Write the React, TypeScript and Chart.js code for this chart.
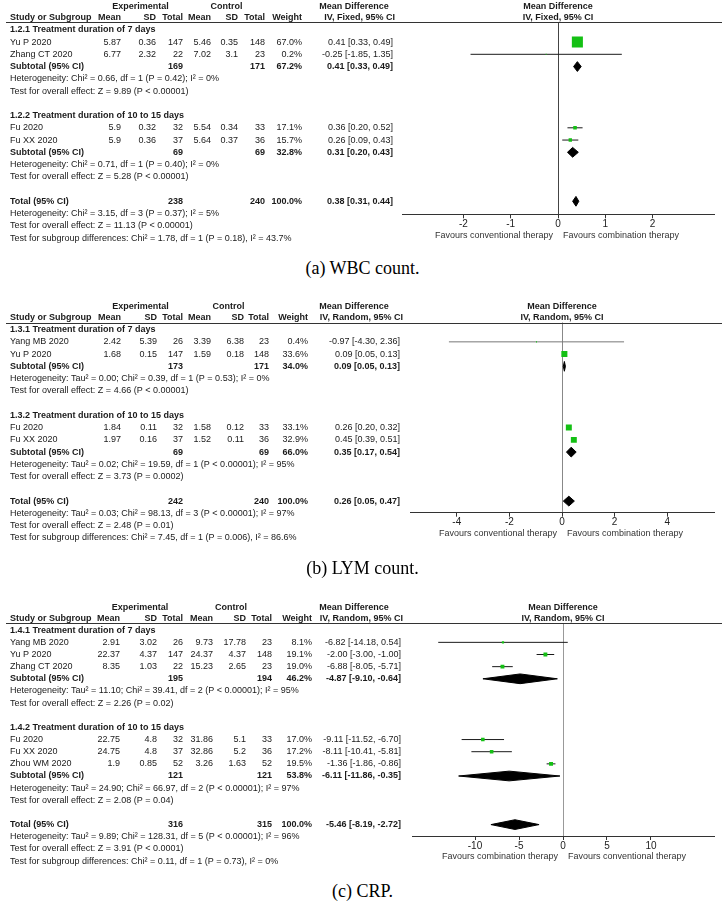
import React, { useEffect, useRef } from "react";
import { Chart, registerables } from "chart.js";

Chart.register(...registerables);

// ---------------- (a) WBC count ----------------
const A_STUDY = ["Yu P 2020", "Zhang CT 2020", "Fu 2020", "Fu XX 2020"];
const A_GROUP = [0, 0, 1, 1];
const A_EXP_MEAN = [5.87, 6.77, 5.9, 5.9];
const A_EXP_SD = [0.36, 2.32, 0.32, 0.36];
const A_EXP_N = [147, 22, 32, 37];
const A_CTL_MEAN = [5.46, 7.02, 5.54, 5.64];
const A_CTL_SD = [0.35, 3.1, 0.34, 0.37];
const A_CTL_N = [148, 23, 33, 36];
const A_WEIGHT = [67.0, 0.2, 17.1, 15.7];
const A_MD = [0.41, -0.25, 0.36, 0.26];
const A_LO = [0.33, -1.85, 0.2, 0.09];
const A_HI = [0.49, 1.35, 0.52, 0.43];
const A_SUB_LABEL = ["1.2.1 Treatment duration of 7 days", "1.2.2 Treatment duration of 10 to 15 days"];
const A_SUB_EXP_N = [169, 69];
const A_SUB_CTL_N = [171, 69];
const A_SUB_WEIGHT = [67.2, 32.8];
const A_SUB_MD = [0.41, 0.31];
const A_SUB_LO = [0.33, 0.2];
const A_SUB_HI = [0.49, 0.43];
const A_SUB_HET = [
  "Heterogeneity: Chi² = 0.66, df = 1 (P = 0.42); I² = 0%",
  "Heterogeneity: Chi² = 0.71, df = 1 (P = 0.40); I² = 0%",
];
const A_SUB_Z = [
  "Test for overall effect: Z = 9.89 (P < 0.00001)",
  "Test for overall effect: Z = 5.28 (P < 0.00001)",
];
const A_TOTAL_N = [238, 240];
const A_TOTAL_EST = [0.38, 0.31, 0.44];
const A_TOTAL_NOTES = [
  "Heterogeneity: Chi² = 3.15, df = 3 (P = 0.37); I² = 5%",
  "Test for overall effect: Z = 11.13 (P < 0.00001)",
  "Test for subgroup differences: Chi² = 1.78, df = 1 (P = 0.18), I² = 43.7%",
];
const A_TICKS = [-2, -1, 0, 1, 2];

// ---------------- (b) LYM count ----------------
const B_STUDY = ["Yang MB 2020", "Yu P 2020", "Fu 2020", "Fu XX 2020"];
const B_GROUP = [0, 0, 1, 1];
const B_EXP_MEAN = [2.42, 1.68, 1.84, 1.97];
const B_EXP_SD = [5.39, 0.15, 0.11, 0.16];
const B_EXP_N = [26, 147, 32, 37];
const B_CTL_MEAN = [3.39, 1.59, 1.58, 1.52];
const B_CTL_SD = [6.38, 0.18, 0.12, 0.11];
const B_CTL_N = [23, 148, 33, 36];
const B_WEIGHT = [0.4, 33.6, 33.1, 32.9];
const B_MD = [-0.97, 0.09, 0.26, 0.45];
const B_LO = [-4.3, 0.05, 0.2, 0.39];
const B_HI = [2.36, 0.13, 0.32, 0.51];
const B_SUB_LABEL = ["1.3.1 Treatment duration of 7 days", "1.3.2 Treatment duration of 10 to 15 days"];
const B_SUB_EXP_N = [173, 69];
const B_SUB_CTL_N = [171, 69];
const B_SUB_WEIGHT = [34.0, 66.0];
const B_SUB_MD = [0.09, 0.35];
const B_SUB_LO = [0.05, 0.17];
const B_SUB_HI = [0.13, 0.54];
const B_SUB_HET = [
  "Heterogeneity: Tau² = 0.00; Chi² = 0.39, df = 1 (P = 0.53); I² = 0%",
  "Heterogeneity: Tau² = 0.02; Chi² = 19.59, df = 1 (P < 0.00001); I² = 95%",
];
const B_SUB_Z = [
  "Test for overall effect: Z = 4.66 (P < 0.00001)",
  "Test for overall effect: Z = 3.73 (P = 0.0002)",
];
const B_TOTAL_N = [242, 240];
const B_TOTAL_EST = [0.26, 0.05, 0.47];
const B_TOTAL_NOTES = [
  "Heterogeneity: Tau² = 0.03; Chi² = 98.13, df = 3 (P < 0.00001); I² = 97%",
  "Test for overall effect: Z = 2.48 (P = 0.01)",
  "Test for subgroup differences: Chi² = 7.45, df = 1 (P = 0.006), I² = 86.6%",
];
const B_TICKS = [-4, -2, 0, 2, 4];

// ---------------- (c) CRP ----------------
const C_STUDY = ["Yang MB 2020", "Yu P 2020", "Zhang CT 2020", "Fu 2020", "Fu XX 2020", "Zhou WM 2020"];
const C_GROUP = [0, 0, 0, 1, 1, 1];
const C_EXP_MEAN = [2.91, 22.37, 8.35, 22.75, 24.75, 1.9];
const C_EXP_SD = [3.02, 4.37, 1.03, 4.8, 4.8, 0.85];
const C_EXP_N = [26, 147, 22, 32, 37, 52];
const C_CTL_MEAN = [9.73, 24.37, 15.23, 31.86, 32.86, 3.26];
const C_CTL_SD = [17.78, 4.37, 2.65, 5.1, 5.2, 1.63];
const C_CTL_N = [23, 148, 23, 33, 36, 52];
const C_WEIGHT = [8.1, 19.1, 19.0, 17.0, 17.2, 19.5];
const C_MD = [-6.82, -2.0, -6.88, -9.11, -8.11, -1.36];
const C_LO = [-14.18, -3.0, -8.05, -11.52, -10.41, -1.86];
const C_HI = [0.54, -1.0, -5.71, -6.7, -5.81, -0.86];
const C_SUB_LABEL = ["1.4.1 Treatment duration of 7 days", "1.4.2 Treatment duration of 10 to 15 days"];
const C_SUB_EXP_N = [195, 121];
const C_SUB_CTL_N = [194, 121];
const C_SUB_WEIGHT = [46.2, 53.8];
const C_SUB_MD = [-4.87, -6.11];
const C_SUB_LO = [-9.1, -11.86];
const C_SUB_HI = [-0.64, -0.35];
const C_SUB_HET = [
  "Heterogeneity: Tau² = 11.10; Chi² = 39.41, df = 2 (P < 0.00001); I² = 95%",
  "Heterogeneity: Tau² = 24.90; Chi² = 66.97, df = 2 (P < 0.00001); I² = 97%",
];
const C_SUB_Z = [
  "Test for overall effect: Z = 2.26 (P = 0.02)",
  "Test for overall effect: Z = 2.08 (P = 0.04)",
];
const C_TOTAL_N = [316, 315];
const C_TOTAL_EST = [-5.46, -8.19, -2.72];
const C_TOTAL_NOTES = [
  "Heterogeneity: Tau² = 9.89; Chi² = 128.31, df = 5 (P < 0.00001); I² = 96%",
  "Test for overall effect: Z = 3.91 (P < 0.0001)",
  "Test for subgroup differences: Chi² = 0.11, df = 1 (P = 0.73), I² = 0%",
];
const C_TICKS = [-10, -5, 0, 5, 10];

const FONT = '"Liberation Sans", Arial, Helvetica, sans-serif';

const PANELS = [
  {
    key: "a",
    caption: "(a) WBC count.",
    method: "IV, Fixed, 95% CI",
    favLeft: "Favours conventional therapy",
    favRight: "Favours combination therapy",
    d: {
      study: A_STUDY, group: A_GROUP, expMean: A_EXP_MEAN, expSd: A_EXP_SD, expN: A_EXP_N,
      ctlMean: A_CTL_MEAN, ctlSd: A_CTL_SD, ctlN: A_CTL_N, weight: A_WEIGHT, md: A_MD, lo: A_LO, hi: A_HI,
      subLabel: A_SUB_LABEL, subExpN: A_SUB_EXP_N, subCtlN: A_SUB_CTL_N, subWeight: A_SUB_WEIGHT,
      subMd: A_SUB_MD, subLo: A_SUB_LO, subHi: A_SUB_HI, subHet: A_SUB_HET, subZ: A_SUB_Z,
      totalN: A_TOTAL_N, totalEst: A_TOTAL_EST, totalNotes: A_TOTAL_NOTES, ticks: A_TICKS,
    },
    L: {
      top: 0, height: 250, headerLine: 22.3, row0: 29.8, pitch: 12.25, axisY: 214.3,
      plotL: 402, plotR: 714, xRange: 3.3, ciColor: "#1a1a1a", zeroColor: "#444",
      cols: { meanE: 121, sdE: 156, totE: 183, meanC: 211, sdC: 238, totC: 265, weight: 302, ci: 393 },
      mdCenter: 354, ivRight: 395, captionY: 268,
    },
  },
  {
    key: "b",
    caption: "(b) LYM count.",
    method: "IV, Random, 95% CI",
    favLeft: "Favours conventional therapy",
    favRight: "Favours combination therapy",
    d: {
      study: B_STUDY, group: B_GROUP, expMean: B_EXP_MEAN, expSd: B_EXP_SD, expN: B_EXP_N,
      ctlMean: B_CTL_MEAN, ctlSd: B_CTL_SD, ctlN: B_CTL_N, weight: B_WEIGHT, md: B_MD, lo: B_LO, hi: B_HI,
      subLabel: B_SUB_LABEL, subExpN: B_SUB_EXP_N, subCtlN: B_SUB_CTL_N, subWeight: B_SUB_WEIGHT,
      subMd: B_SUB_MD, subLo: B_SUB_LO, subHi: B_SUB_HI, subHet: B_SUB_HET, subZ: B_SUB_Z,
      totalN: B_TOTAL_N, totalEst: B_TOTAL_EST, totalNotes: B_TOTAL_NOTES, ticks: B_TICKS,
    },
    L: {
      top: 282, height: 280, headerLine: 40.5, row0: 47.6, pitch: 12.25, axisY: 230.7,
      plotL: 410, plotR: 714, xRange: 5.78, ciColor: "#777", zeroColor: "#888",
      cols: { meanE: 121, sdE: 157, totE: 183, meanC: 211, sdC: 244, totC: 269, weight: 308, ci: 400 },
      mdCenter: 354, ivRight: 403, captionY: 568,
    },
  },
  {
    key: "c",
    caption: "(c) CRP.",
    method: "IV, Random, 95% CI",
    favLeft: "Favours combination therapy",
    favRight: "Favours conventional therapy",
    d: {
      study: C_STUDY, group: C_GROUP, expMean: C_EXP_MEAN, expSd: C_EXP_SD, expN: C_EXP_N,
      ctlMean: C_CTL_MEAN, ctlSd: C_CTL_SD, ctlN: C_CTL_N, weight: C_WEIGHT, md: C_MD, lo: C_LO, hi: C_HI,
      subLabel: C_SUB_LABEL, subExpN: C_SUB_EXP_N, subCtlN: C_SUB_CTL_N, subWeight: C_SUB_WEIGHT,
      subMd: C_SUB_MD, subLo: C_SUB_LO, subHi: C_SUB_HI, subHet: C_SUB_HET, subZ: C_SUB_Z,
      totalN: C_TOTAL_N, totalEst: C_TOTAL_EST, totalNotes: C_TOTAL_NOTES, ticks: C_TICKS,
    },
    L: {
      top: 584, height: 292, headerLine: 39.3, row0: 46.2, pitch: 12.15, axisY: 252,
      plotL: 412, plotR: 714, xRange: 17.16, ciColor: "#1a1a1a", zeroColor: "#999",
      cols: { meanE: 120, sdE: 157, totE: 183, meanC: 213, sdC: 246, totC: 272, weight: 312, ci: 401 },
      mdCenter: 354, ivRight: 403, captionY: 891,
    },
  },
];

function buildRows(d: any) {
  const rows: any[] = [];
  d.subLabel.forEach((lab: string, g: number) => {
    rows.push({ kind: "group", text: lab });
    d.study.forEach((_s: string, i: number) => {
      if (d.group[i] === g) rows.push({ kind: "study", i });
    });
    rows.push({ kind: "sub", g });
    rows.push({ kind: "note", text: d.subHet[g] });
    rows.push({ kind: "note", text: d.subZ[g] });
    rows.push({ kind: "blank" });
  });
  rows.push({ kind: "total" });
  d.totalNotes.forEach((t: string) => rows.push({ kind: "note", text: t }));
  return rows;
}

const ciText = (m: number, l: number, h: number) => `${m.toFixed(2)} [${l.toFixed(2)}, ${h.toFixed(2)}]`;

function makeTablePlugin(p: any, rows: any[]) {
  const { d, L } = p;
  return {
    id: "forestTable" + p.key,
    afterDraw(chart: any) {
      const ctx = chart.ctx;
      const ys = chart.scales.y;
      const xs = chart.scales.x;
      const yOf = (r: number) => ys.getPixelForValue(r);
      const area = chart.chartArea;
      const C = L.cols;
      const txt = (s: string, x: number, y: number, align: string, bold: boolean, size = 9) => {
        ctx.font = `${bold ? "bold " : ""}${size}px ${FONT}`;
        ctx.textAlign = align;
        ctx.fillText(s, x, y);
      };
      ctx.save();
      ctx.strokeStyle = "#333";
      ctx.lineWidth = 1;
      const ly = Math.round(area.top) + 0.5;
      ctx.beginPath();
      ctx.moveTo(6, ly);
      ctx.lineTo(722, ly);
      ctx.stroke();

      ctx.fillStyle = "#1a1a1a";
      ctx.textBaseline = "middle";
      const h1 = area.top - 16;
      const h2 = area.top - 4.5;
      const plotC = (area.left + area.right) / 2;
      txt("Experimental", (C.meanE - 23 + C.totE) / 2, h1, "center", true);
      txt("Control", (C.meanC - 23 + C.totC) / 2, h1, "center", true);
      txt("Mean Difference", L.mdCenter, h1, "center", true);
      txt("Mean Difference", plotC, h1, "center", true);
      txt("Study or Subgroup", 10, h2, "left", true);
      txt("Mean", C.meanE, h2, "right", true);
      txt("SD", C.sdE, h2, "right", true);
      txt("Total", C.totE, h2, "right", true);
      txt("Mean", C.meanC, h2, "right", true);
      txt("SD", C.sdC, h2, "right", true);
      txt("Total", C.totC, h2, "right", true);
      txt("Weight", C.weight, h2, "right", true);
      txt(p.method, L.ivRight, h2, "right", true);
      txt(p.method, plotC, h2, "center", true);

      rows.forEach((row: any, r: number) => {
        const y = yOf(r);
        if (row.kind === "group") txt(row.text, 10, y, "left", true);
        else if (row.kind === "note") txt(row.text, 10, y, "left", false);
        else if (row.kind === "study") {
          const i = row.i;
          txt(d.study[i], 10, y, "left", false);
          txt(String(d.expMean[i]), C.meanE, y, "right", false);
          txt(String(d.expSd[i]), C.sdE, y, "right", false);
          txt(String(d.expN[i]), C.totE, y, "right", false);
          txt(String(d.ctlMean[i]), C.meanC, y, "right", false);
          txt(String(d.ctlSd[i]), C.sdC, y, "right", false);
          txt(String(d.ctlN[i]), C.totC, y, "right", false);
          txt(d.weight[i].toFixed(1) + "%", C.weight, y, "right", false);
          txt(ciText(d.md[i], d.lo[i], d.hi[i]), C.ci, y, "right", false);
        } else if (row.kind === "sub") {
          const g = row.g;
          txt("Subtotal (95% CI)", 10, y, "left", true);
          txt(String(d.subExpN[g]), C.totE, y, "right", true);
          txt(String(d.subCtlN[g]), C.totC, y, "right", true);
          txt(d.subWeight[g].toFixed(1) + "%", C.weight, y, "right", true);
          txt(ciText(d.subMd[g], d.subLo[g], d.subHi[g]), C.ci, y, "right", true);
        } else if (row.kind === "total") {
          txt("Total (95% CI)", 10, y, "left", true);
          txt(String(d.totalN[0]), C.totE, y, "right", true);
          txt(String(d.totalN[1]), C.totC, y, "right", true);
          txt("100.0%", C.weight, y, "right", true);
          txt(ciText(d.totalEst[0], d.totalEst[1], d.totalEst[2]), C.ci, y, "right", true);
        }
      });

      const x0 = xs.getPixelForValue(0);
      const fy = area.bottom + 21;
      ctx.fillStyle = "#333";
      txt(p.favLeft, x0 - 5, fy, "right", false);
      txt(p.favRight, x0 + 5, fy, "left", false);
      ctx.restore();
    },
  };
}

function ForestPanel({ p }: { p: any }) {
  const ref = useRef<HTMLCanvasElement | null>(null);
  useEffect(() => {
    const { d, L } = p;
    const rows = buildRows(d);
    const studyRow: number[] = [];
    const subRow: number[] = [];
    let totalRow = 0;
    rows.forEach((row: any, r: number) => {
      if (row.kind === "study") studyRow[row.i] = r;
      if (row.kind === "sub") subRow[row.g] = r;
      if (row.kind === "total") totalRow = r;
    });

    const H = 0.4;
    const diamond = (m: number, lo: number, hi: number, r: number) => ({
      data: [
        { x: lo, y: r },
        { x: m, y: r - H },
        { x: hi, y: r },
        { x: m, y: r + H },
        { x: lo, y: r },
      ],
      showLine: true,
      fill: "shape",
      backgroundColor: "#000",
      borderColor: "#000",
      borderWidth: 1,
      pointRadius: 0,
      tension: 0,
    });

    const datasets: any[] = [];
    datasets.push({
      data: d.study.map((_s: string, i: number) => ({ x: d.md[i], y: studyRow[i] })),
      pointStyle: "rect",
      pointRadius: d.weight.map((w: number) => (0.15 * w + 1) / Math.SQRT2),
      backgroundColor: "#14c014",
      borderWidth: 0,
      showLine: false,
    });
    d.study.forEach((_s: string, i: number) => {
      datasets.push({
        data: [
          { x: d.lo[i], y: studyRow[i] },
          { x: d.hi[i], y: studyRow[i] },
        ],
        showLine: true,
        borderColor: L.ciColor,
        borderWidth: 1,
        pointRadius: 0,
        fill: false,
      });
    });
    d.subLabel.forEach((_l: string, g: number) => {
      datasets.push(diamond(d.subMd[g], d.subLo[g], d.subHi[g], subRow[g]));
    });
    datasets.push(diamond(d.totalEst[0], d.totalEst[1], d.totalEst[2], totalRow));

    const yMin = (L.headerLine - L.row0) / L.pitch;
    const yMax = (L.axisY - L.row0) / L.pitch;
    const SCALE_H = 30;

    const chart = new Chart(ref.current as HTMLCanvasElement, {
      type: "scatter",
      data: { datasets },
      options: {
        animation: false,
        responsive: false,
        devicePixelRatio: 1,
        events: [],
        layout: {
          autoPadding: false,
          padding: {
            left: L.plotL,
            right: 725 - L.plotR,
            top: L.headerLine,
            bottom: L.height - L.axisY - SCALE_H,
          },
        },
        plugins: { legend: { display: false }, tooltip: { enabled: false } },
        scales: {
          x: {
            type: "linear",
            position: "bottom",
            min: -L.xRange,
            max: L.xRange,
            afterBuildTicks: (s: any) => {
              s.ticks = d.ticks.map((v: number) => ({ value: v }));
            },
            afterFit: (s: any) => {
              s.height = SCALE_H;
            },
            ticks: {
              font: { family: FONT, size: 10 },
              color: "#222",
              padding: 0,
              maxRotation: 0,
              autoSkip: false,
              callback: (v: any) => String(v),
            },
            grid: {
              color: (c: any) => (c.tick && c.tick.value === 0 ? L.zeroColor : "rgba(0,0,0,0)"),
              tickColor: "#333",
              tickLength: 4,
              lineWidth: 1,
            },
            border: { display: true, color: "#333", width: 1 },
          },
          y: { type: "linear", display: false, reverse: true, min: yMin, max: yMax },
        },
      },
      plugins: [makeTablePlugin(p, rows)],
    } as any);
    return () => chart.destroy();
  }, [p]);

  return (
    <canvas
      ref={ref}
      width={725}
      height={p.L.height}
      style={{ position: "absolute", left: 0, top: p.L.top, width: 725, height: p.L.height }}
    />
  );
}

export default function App() {
  return (
    <div style={{ position: "absolute", left: 0, top: 0, width: 725, height: 914, background: "#fff", overflow: "hidden" }}>
      {PANELS.map((p) => (
        <ForestPanel key={p.key} p={p} />
      ))}
      {PANELS.map((p) => (
        <div
          key={"cap" + p.key}
          style={{
            position: "absolute",
            left: 0,
            width: 725,
            top: p.L.captionY - 11,
            height: 22,
            lineHeight: "22px",
            textAlign: "center",
            fontFamily: '"Liberation Serif", "Times New Roman", serif',
            fontSize: 18,
            color: "#000",
          }}
        >
          {p.caption}
        </div>
      ))}
    </div>
  );
}
